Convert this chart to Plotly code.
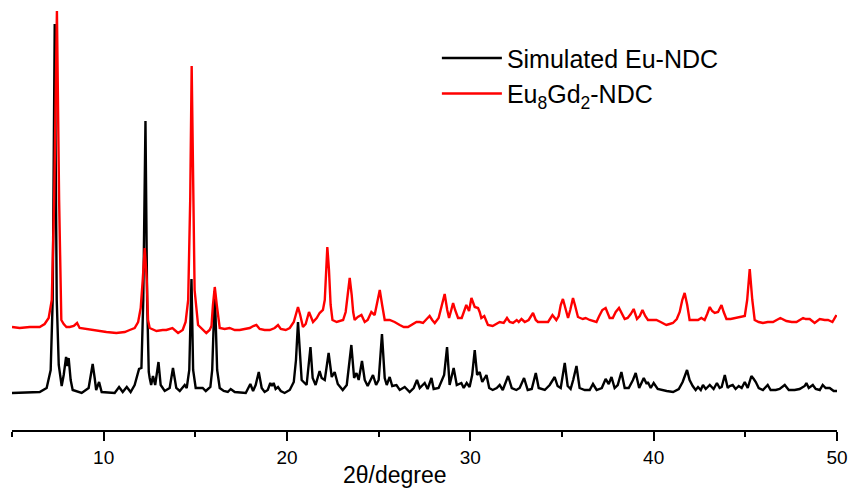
import plotly.graph_objects as go

# 2-theta (degree) and intensity (a.u.)
sim_two_theta = [5.0, 6.51, 6.89, 7.11, 7.22, 7.33, 7.44, 7.55, 7.71, 7.82, 7.95, 8.02, 8.09, 8.20, 8.31,
                 8.80, 9.18, 9.29, 9.40, 9.51, 9.59, 9.75, 9.89, 10.60, 10.84, 11.04, 11.26, 11.47, 11.69,
                 11.93, 12.06, 12.16, 12.28, 12.37, 12.46, 12.51, 12.59, 12.69, 12.81, 12.99, 13.11, 13.33,
                 13.60, 13.78, 13.96, 14.15, 14.42, 14.53, 14.67, 14.79, 14.88, 15.02, 15.40, 15.57, 15.82,
                 15.92, 16.06, 16.19, 16.33, 16.55, 16.77, 16.93, 17.15, 17.75, 18.00, 18.15, 18.29, 18.46,
                 18.62, 18.78, 18.95, 19.09, 19.18, 19.27, 19.38, 19.51, 19.66, 19.87, 20.15, 20.37, 20.49,
                 20.60, 20.72, 20.80, 20.96, 21.07, 21.28, 21.40, 21.56, 21.78, 21.89, 22.06, 22.27, 22.44,
                 22.60, 22.77, 23.04, 23.26, 23.51, 23.66, 23.79, 23.91, 24.09, 24.24, 24.40, 24.69, 24.86,
                 25.00, 25.18, 25.33, 25.44, 25.60, 25.74, 25.97, 26.15, 26.42, 26.69, 26.91, 27.09, 27.24,
                 27.51, 27.67, 27.88, 28.00, 28.27, 28.44, 28.57, 28.73, 28.87, 29.09, 29.26, 29.51, 29.64,
                 29.80, 29.96, 30.10, 30.24, 30.37, 30.51, 30.65, 30.88, 31.03, 31.22, 31.44, 31.60, 31.77,
                 32.06, 32.26, 32.51, 32.69, 32.93, 33.13, 33.35, 33.57, 33.73, 34.06, 34.33, 34.60, 34.76,
                 34.93, 35.15, 35.31, 35.47, 35.61, 35.79, 35.96, 36.24, 36.51, 36.69, 36.89, 37.17, 37.38,
                 37.55, 37.70, 37.87, 38.04, 38.24, 38.42, 38.64, 38.87, 39.02, 39.21, 39.46, 39.62, 39.68,
                 39.84, 40.00, 40.22, 40.44, 40.71, 41.06, 41.37, 41.58, 41.69, 41.82, 41.96, 42.13, 42.29,
                 42.42, 42.57, 42.69, 42.84, 43.06, 43.27, 43.45, 43.60, 43.71, 43.88, 44.04, 44.15, 44.31,
                 44.47, 44.64, 44.80, 44.97, 45.13, 45.33, 45.46, 45.57, 45.73, 45.96, 46.22, 46.38, 46.66,
                 46.87, 47.15, 47.37, 47.69, 47.96, 48.24, 48.33, 48.46, 48.68, 48.84, 49.06, 49.22, 49.38,
                 49.60, 49.82, 50.0]
sim_intensity = [37, 38, 42, 60, 130, 406, 130, 65, 44, 55, 73, 64, 72, 50, 40,
                 37, 42, 55, 66, 52, 40, 48, 38, 37, 43, 38, 43, 38, 45,
                 61, 62, 130, 309, 130, 58, 52, 45, 54, 45, 68, 45, 39,
                 42, 62, 42, 39, 45, 42, 60, 151, 60, 42, 42, 39, 43,
                 60, 139, 60, 42, 39, 38, 41, 38, 37, 46, 39, 45, 58,
                 42, 38, 40, 47, 44, 47, 41, 43, 39, 37, 40, 48, 70,
                 108, 70, 50, 47, 45, 83, 52, 45, 59, 52, 50, 77, 53,
                 58, 46, 40, 45, 85, 52, 57, 50, 69, 50, 44, 55, 45,
                 50, 96, 52, 45, 53, 44, 45, 40, 43, 38, 42, 50, 42,
                 47, 41, 52, 41, 42, 50, 55, 83, 45, 62, 45, 47, 42,
                 47, 43, 55, 80, 55, 58, 48, 55, 42, 40, 42, 45, 40,
                 54, 42, 40, 42, 52, 40, 41, 57, 42, 40, 45, 53, 44,
                 42, 67, 44, 41, 50, 64, 42, 40, 40, 46, 40, 42, 51,
                 46, 53, 42, 45, 58, 42, 42, 50, 57, 42, 52, 46, 48,
                 42, 47, 41, 40, 39, 38, 41, 48, 53, 60, 50, 44, 40,
                 43, 40, 45, 41, 45, 41, 47, 42, 43, 55, 42, 44, 45,
                 41, 44, 42, 48, 42, 54, 51, 48, 42, 40, 45, 40, 40,
                 41, 45, 40, 40, 41, 44, 47, 42, 45, 41, 40, 45, 42,
                 42, 39, 39]

exp_two_theta = [5.0, 5.42, 5.97, 6.51, 6.78, 7.00, 7.17, 7.30, 7.45, 7.57, 7.69, 7.82, 7.97, 8.15, 8.37,
                 8.55, 8.69, 9.02, 9.40, 9.78, 10.15, 10.69, 11.15, 11.42, 11.69, 11.88, 12.02, 12.13, 12.24,
                 12.35, 12.42, 12.51, 12.88, 13.22, 13.42, 13.75, 14.06, 14.31, 14.47, 14.61, 14.72, 14.80,
                 14.88, 14.96, 15.15, 15.40, 15.60, 15.78, 15.88, 15.96, 16.06, 16.17, 16.33, 16.60, 16.87,
                 17.15, 17.42, 17.69, 17.97, 18.16, 18.33, 18.51, 18.78, 19.06, 19.33, 19.51, 19.66, 19.93,
                 20.15, 20.37, 20.50, 20.60, 20.72, 20.87, 21.02, 21.20, 21.42, 21.62, 21.78, 21.96, 22.06,
                 22.13, 22.20, 22.29, 22.38, 22.48, 22.71, 23.06, 23.20, 23.31, 23.42, 23.53, 23.61, 23.69,
                 23.86, 24.06, 24.24, 24.40, 24.60, 24.78, 24.89, 25.06, 25.19, 25.33, 25.60, 25.87, 26.15,
                 26.37, 26.60, 26.80, 27.06, 27.24, 27.42, 27.62, 27.78, 27.92, 28.06, 28.27, 28.44, 28.60,
                 28.74, 28.84, 28.96, 29.06, 29.17, 29.33, 29.53, 29.66, 29.78, 29.93, 30.06, 30.24, 30.42,
                 30.51, 30.60, 30.76, 30.96, 31.22, 31.44, 31.60, 31.82, 32.00, 32.15, 32.33, 32.53, 32.64,
                 32.79, 32.97, 33.18, 33.32, 33.42, 33.57, 33.69, 33.95, 34.24, 34.48, 34.69, 34.82, 34.93,
                 35.05, 35.17, 35.33, 35.45, 35.60, 35.72, 35.87, 36.13, 36.29, 36.51, 36.88, 37.03, 37.20,
                 37.38, 37.49, 37.60, 37.77, 37.93, 38.11, 38.26, 38.42, 38.58, 38.75, 38.91, 39.09, 39.24,
                 39.39, 39.54, 39.69, 39.89, 40.15, 40.38, 40.69, 40.87, 41.05, 41.26, 41.42, 41.56, 41.69,
                 41.83, 41.96, 42.18, 42.42, 42.60, 42.78, 42.92, 43.06, 43.19, 43.33, 43.51, 43.70, 43.82,
                 43.97, 44.20, 44.51, 44.75, 44.97, 45.10, 45.24, 45.38, 45.51, 45.73, 45.96, 46.22, 46.51,
                 46.71, 46.91, 47.24, 47.53, 47.79, 47.97, 48.15, 48.29, 48.51, 48.78, 49.06, 49.33, 49.51,
                 49.75, 49.97]
exp_intensity = [103, 102, 103, 103, 106, 112, 130, 230, 419, 230, 110, 106, 103, 103, 104,
                 107, 102, 101, 100, 99, 98, 97, 98, 100, 102, 108, 122, 150, 182,
                 150, 110, 102, 99, 100, 100, 102, 97, 100, 108, 130, 230, 364,
                 230, 140, 105, 100, 97, 100, 104, 125, 143, 125, 102, 101, 102,
                 100, 100, 101, 102, 104, 105, 101, 100, 100, 102, 105, 101, 100,
                 102, 108, 118, 123, 115, 103, 106, 118, 108, 112, 117, 120, 130,
                 160, 183, 160, 125, 110, 108, 110, 118, 135, 152, 135, 118, 110,
                 113, 115, 108, 110, 118, 115, 125, 140, 125, 110, 110, 108, 105,
                 103, 103, 105, 108, 108, 107, 111, 114, 110, 107, 112, 125, 136,
                 120, 112, 120, 127, 120, 112, 112, 120, 125, 119, 132, 123, 122,
                 118, 112, 114, 105, 104, 106, 108, 107, 112, 108, 107, 110, 108,
                 111, 108, 110, 114, 117, 110, 108, 108, 108, 115, 110, 114, 125,
                 131, 122, 112, 120, 132, 124, 113, 111, 112, 110, 108, 114, 120,
                 122, 116, 112, 112, 118, 122, 116, 111, 112, 116, 121, 111, 114,
                 120, 114, 110, 110, 110, 108, 105, 106, 107, 111, 118, 130, 137,
                 125, 110, 110, 110, 112, 110, 116, 123, 119, 117, 118, 125, 118,
                 111, 111, 112, 113, 114, 130, 161, 130, 110, 108, 107, 108, 108,
                 110, 112, 109, 108, 108, 110, 112, 111, 111, 107, 111, 110, 110,
                 108, 115]

x_major_ticks = [10, 20, 30, 40, 50]
series_names = ["Simulated Eu-NDC", "Eu<sub>8</sub>Gd<sub>2</sub>-NDC"]

FONT = "Liberation Sans, Arial, sans-serif"

fig = go.Figure()
fig.add_trace(go.Scatter(x=sim_two_theta, y=sim_intensity, mode="lines",
                         name=series_names[0], line=dict(color="black", width=2.4)))
fig.add_trace(go.Scatter(x=exp_two_theta, y=exp_intensity, mode="lines",
                         name=series_names[1], line=dict(color="red", width=2.4)))

fig.update_layout(
    width=849, height=489,
    margin=dict(l=12, r=12, t=0, b=59),
    paper_bgcolor="white", plot_bgcolor="white",
    font=dict(family=FONT, color="black"),
    showlegend=True,
    legend=dict(x=0.515, y=0.918, xanchor="left", yanchor="top",
                font=dict(size=25, family=FONT, color="black"),
                bgcolor="rgba(0,0,0,0)", borderwidth=0, itemwidth=60,
                tracegroupgap=0),
    xaxis=dict(range=[5, 50], showline=True, linecolor="black", linewidth=2,
               showgrid=False, zeroline=False,
               tickmode="array", tickvals=x_major_ticks,
               ticks="outside", ticklen=9, tickwidth=2, tickcolor="black",
               tickfont=dict(size=19, family=FONT, color="black"),
               minor=dict(dtick=5, tick0=5, ticks="outside", ticklen=5,
                          tickwidth=1.5, tickcolor="black", showgrid=False)),
    yaxis=dict(range=[0, 430], visible=False, showgrid=False, zeroline=False),
    annotations=[dict(text="2θ/degree", x=25.9, xref="x", y=-0.104, yref="paper",
                      xanchor="center", yanchor="middle", showarrow=False,
                      font=dict(size=23, family=FONT, color="black"))],
)

fig.write_html("out.html", config={"displayModeBar": False},
               post_script="document.body.style.margin='0';document.body.style.overflow='hidden';")
